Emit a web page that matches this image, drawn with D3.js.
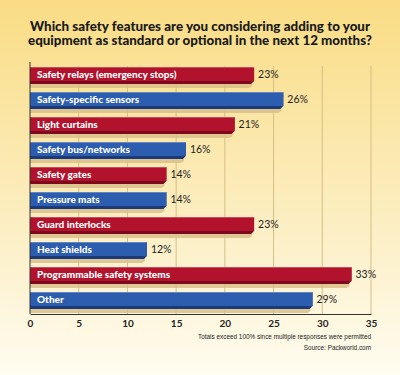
<!DOCTYPE html>
<html lang="en">
<head>
    <meta charset="UTF-8">
    <title>Safety features bar chart</title>
    <script src="https://d3js.org/d3.v7.min.js"></script>
    <style>
        body { margin: 0; }
        svg { display: block; }
    </style>
</head>
<body>
    <div id="chart"></div>
    <script>
        // chart data
        const categories = ["Safety relays (emergency stops)", "Safety-specific sensors", "Light curtains",
            "Safety bus/networks", "Safety gates", "Pressure mats", "Guard interlocks", "Heat shields",
            "Programmable safety systems", "Other"];
        const values = [23, 26, 21, 16, 14, 14, 23, 12, 33, 29];
        const barColors = ["red", "blue", "red", "blue", "red", "blue", "red", "blue", "red", "blue"];
        const xTicks = [0, 5, 10, 15, 20, 25, 30, 35];
        const titleLines = ["Which safety features are you considering adding to your",
            "equipment as standard or optional in the next 12 months?"];
        const notes = ["Totals exceed 100% since multiple responses were permitted", "Source: Packworld.com"];

        const palette = {
            red: {face: "#B3122C", edge: "#7C0A1C"},
            blue: {face: "#2C5DAE", edge: "#1B3A7C"}
        };

        const W = 400, H = 375;
        const margin = {top: 62, right: 29, bottom: 61, left: 30};
        const width = W - margin.left - margin.right,
            height = H - margin.top - margin.bottom;

        const svg = d3.select("#chart").append("svg")
            .attr("width", W)
            .attr("height", H);

        // background gradient
        const defs = svg.append("defs");
        const bg = defs.append("linearGradient").attr("id", "bg")
            .attr("x1", 0).attr("y1", 0).attr("x2", 0).attr("y2", 1);
        bg.append("stop").attr("offset", "0%").attr("stop-color", "#F9DC84");
        bg.append("stop").attr("offset", "55%").attr("stop-color", "#FCEDBE");
        bg.append("stop").attr("offset", "100%").attr("stop-color", "#FFFCF0");
        svg.append("rect").attr("width", W).attr("height", H).attr("fill", "url(#bg)");

        // title
        svg.selectAll(".title")
            .data(titleLines)
            .enter()
            .append("text")
            .attr("class", "title")
            .attr("x", W / 2)
            .attr("y", (d, i) => 31 + i * 14)
            .attr("text-anchor", "middle")
            .attr("font-family", "Lato, 'DejaVu Sans', sans-serif")
            .attr("font-weight", "900")
            .attr("font-size", 12.5)
            .attr("fill", "#1a1a1a")
            .attr("textLength", (d, i) => i === 0 ? 340 : 344)
            .attr("lengthAdjust", "spacingAndGlyphs")
            .text(d => d);

        const g = svg.append("g")
            .attr("transform", `translate(${margin.left}, ${margin.top})`);

        const x = d3.scaleLinear().domain([0, 35]).range([0, width]);
        const y = d3.scaleBand().domain(categories).range([0, height]).paddingInner(0.32).paddingOuter(0.2);

        // gridlines
        g.selectAll(".grid")
            .data(xTicks.slice(1))
            .enter()
            .append("line")
            .attr("class", "grid")
            .attr("x1", d => x(d)).attr("x2", d => x(d))
            .attr("y1", 4).attr("y2", height)
            .attr("stroke", "#D6BE86")
            .attr("stroke-width", 1);

        const bh = y.bandwidth();
        const rows = g.selectAll(".bar")
            .data(categories)
            .enter()
            .append("g")
            .attr("class", "bar")
            .attr("transform", d => `translate(0, ${y(d)})`);

        // drop shadow
        rows.append("polygon")
            .attr("points", (d, i) => {
                const xe = x(values[i]);
                return [[0, 3], [xe - 2, 3], [xe - 2, bh + 2], [xe - 5, bh + 4], [0, bh + 4]].join(" ");
            })
            .attr("fill", "#D9C08A")
            .attr("opacity", 0.85);

        // bar body with bevelled end
        rows.append("polygon")
            .attr("points", (d, i) => {
                const xe = x(values[i]);
                return [[0, 0], [xe, 0], [xe, bh - 3], [xe - 3, bh], [0, bh]].join(" ");
            })
            .attr("fill", (d, i) => palette[barColors[i]].edge);
        rows.append("rect")
            .attr("x", 0).attr("y", 0)
            .attr("width", (d, i) => x(values[i]))
            .attr("height", bh - 3)
            .attr("fill", (d, i) => palette[barColors[i]].face);
        rows.append("line")
            .attr("x1", 0).attr("x2", (d, i) => x(values[i]))
            .attr("y1", 0.5).attr("y2", 0.5)
            .attr("stroke", "#ffffff").attr("stroke-opacity", 0.25);

        // category labels inside bars
        rows.append("text")
            .attr("x", 7)
            .attr("y", bh / 2 - 1)
            .attr("dy", "0.35em")
            .attr("font-family", "Lato, 'DejaVu Sans', sans-serif")
            .attr("font-weight", "900")
            .attr("font-size", 10)
            .attr("fill", "#ffffff")
            .text(d => d);

        // value labels
        rows.append("text")
            .attr("x", (d, i) => x(values[i]) + 4)
            .attr("y", bh / 2 - 1)
            .attr("dy", "0.35em")
            .attr("font-family", "Lato, 'DejaVu Sans', sans-serif")
            .attr("font-size", 10.5)
            .attr("fill", "#222")
            .text((d, i) => values[i] + "%");

        // axes
        const xAxis = g.append("g")
            .attr("transform", `translate(0, ${height})`)
            .call(d3.axisBottom(x).tickValues(xTicks).tickSize(0).tickPadding(6));
        xAxis.select(".domain").attr("stroke", "#333");
        xAxis.selectAll("text")
            .attr("font-family", "Lato, 'DejaVu Sans', sans-serif")
            .attr("font-weight", "bold")
            .attr("font-size", 10)
            .attr("fill", "#222");

        g.append("line")
            .attr("x1", 0).attr("x2", 0)
            .attr("y1", 0).attr("y2", height)
            .attr("stroke", "#333");

        // footnotes
        svg.selectAll(".note")
            .data(notes)
            .enter()
            .append("text")
            .attr("class", "note")
            .attr("x", margin.left + width)
            .attr("y", (d, i) => 339 + i * 11)
            .attr("text-anchor", "end")
            .attr("font-family", "'Liberation Sans Narrow', 'Liberation Sans', sans-serif")
            .attr("font-size", 6.4)
            .attr("fill", "#222")
            .text(d => d);
    </script>
</body>
</html>
